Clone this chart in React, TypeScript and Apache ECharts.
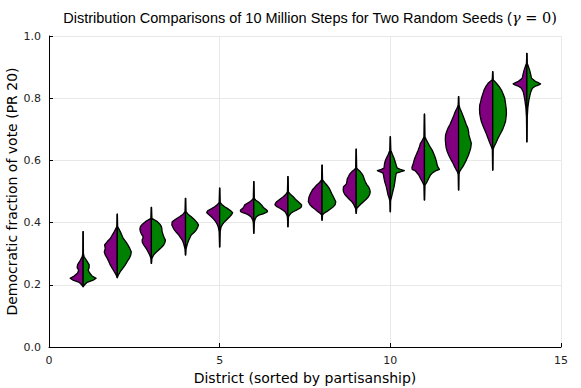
import React, { useEffect, useRef } from "react";
import * as echarts from "echarts";

// District index (sorted by partisanship)
const districts = [1, 2, 3, 4, 5, 6, 7, 8, 9, 10, 11, 12, 13, 14];

// Democratic vote fraction levels at which densities were read (bottom → top), per district
const voteLevels: number[][] = [
  [0.194, 0.2, 0.208, 0.215, 0.221, 0.228, 0.238, 0.247, 0.255, 0.265, 0.278, 0.29, 0.3, 0.371],
  [0.223, 0.231, 0.242, 0.253, 0.264, 0.275, 0.285, 0.296, 0.306, 0.317, 0.328, 0.339, 0.349, 0.36, 0.371, 0.387, 0.427],
  [0.269, 0.285, 0.296, 0.304, 0.312, 0.32, 0.328, 0.336, 0.344, 0.35, 0.355, 0.363, 0.371, 0.379, 0.387, 0.395, 0.403, 0.41, 0.414, 0.449],
  [0.296, 0.315, 0.328, 0.336, 0.344, 0.352, 0.36, 0.368, 0.376, 0.384, 0.392, 0.398, 0.403, 0.411, 0.419, 0.427, 0.435, 0.478],
  [0.322, 0.37, 0.38, 0.387, 0.395, 0.403, 0.411, 0.419, 0.426, 0.432, 0.438, 0.445, 0.451, 0.457, 0.465, 0.511],
  [0.366, 0.4, 0.408, 0.414, 0.419, 0.424, 0.428, 0.432, 0.435, 0.438, 0.441, 0.446, 0.451, 0.457, 0.462, 0.467, 0.472, 0.478, 0.532],
  [0.387, 0.418, 0.424, 0.43, 0.435, 0.441, 0.446, 0.451, 0.457, 0.462, 0.467, 0.475, 0.483, 0.491, 0.499, 0.548],
  [0.408, 0.425, 0.43, 0.436, 0.443, 0.45, 0.457, 0.467, 0.475, 0.483, 0.494, 0.505, 0.513, 0.521, 0.529, 0.537, 0.585],
  [0.43, 0.445, 0.451, 0.459, 0.467, 0.475, 0.483, 0.491, 0.499, 0.507, 0.515, 0.523, 0.532, 0.54, 0.548, 0.556, 0.564, 0.57, 0.575, 0.636],
  [0.435, 0.47, 0.48, 0.489, 0.5, 0.515, 0.53, 0.542, 0.552, 0.559, 0.563, 0.567, 0.571, 0.575, 0.583, 0.591, 0.599, 0.607, 0.62, 0.633, 0.676],
  [0.473, 0.52, 0.532, 0.542, 0.553, 0.56, 0.566, 0.571, 0.578, 0.585, 0.596, 0.607, 0.62, 0.633, 0.644, 0.655, 0.665, 0.676, 0.749],
  [0.505, 0.555, 0.564, 0.572, 0.58, 0.59, 0.601, 0.614, 0.628, 0.641, 0.655, 0.668, 0.682, 0.692, 0.703, 0.716, 0.73, 0.743, 0.757, 0.768, 0.778, 0.805],
  [0.569, 0.635, 0.644, 0.657, 0.671, 0.685, 0.698, 0.711, 0.724, 0.738, 0.751, 0.765, 0.778, 0.789, 0.8, 0.813, 0.826, 0.837, 0.848, 0.855, 0.859, 0.885],
  [0.66, 0.74, 0.77, 0.794, 0.808, 0.821, 0.832, 0.839, 0.843, 0.846, 0.849, 0.853, 0.864, 0.878, 0.891, 0.905, 0.912, 0.944],
];

// Relative density for seed A (purple, left half)
const seedADensity: number[][] = [
  [0.1, 1.5, 4, 10, 13, 9, 5.5, 4.5, 6, 5.5, 3, 1, 0.3, 0.1],
  [0.1, 1, 3, 5, 7, 8.5, 10, 12, 13, 12, 12.7, 10, 7, 5, 3, 0.4, 0.1],
  [0.1, 0.5, 1.7, 3, 4.3, 6, 7.7, 9, 9.3, 8.5, 8.3, 10, 11, 11.5, 11, 9, 6, 2.5, 0.5, 0.1],
  [0.1, 0.5, 1.5, 2.3, 3.3, 5, 6.7, 9, 11, 12.5, 13.7, 13.5, 13.3, 10, 6, 2.5, 0.5, 0.1],
  [0.1, 0.5, 1, 1.5, 2.5, 4, 6, 8.3, 11, 13, 12, 8, 5, 2.5, 0.5, 0.1],
  [0.1, 0.5, 1, 2, 3, 5, 7.3, 11, 13, 13.5, 13, 11, 10, 9, 6.5, 4, 2, 0.5, 0.1],
  [0.1, 0.5, 1, 2, 3, 5.5, 8, 11, 13, 12.5, 11.3, 8, 4.7, 2, 0.5, 0.1],
  [0.1, 0.5, 2, 4.5, 7, 10, 12, 13.7, 13.5, 13, 11.5, 9.7, 7.5, 5.3, 2.5, 0.5, 0.1],
  [0.1, 0.5, 1.5, 2.5, 4.3, 7, 9.3, 11.5, 12.7, 13, 12.7, 10, 9.3, 9, 7.7, 6.5, 4.3, 2, 0.5, 0.1],
  [0.1, 0.5, 1.3, 2.3, 3, 4, 5.5, 6.3, 6.8, 7.3, 10, 13, 9, 6.3, 6, 5.7, 5, 4, 2, 0.5, 0.1],
  [0.1, 0.5, 2.3, 4, 5.7, 7.5, 9, 12.3, 12.5, 11.7, 10.7, 9.7, 8, 6.3, 5, 4, 2, 0.5, 0.1],
  [0.1, 0.4, 1.3, 2.7, 4, 5.5, 7.3, 9.5, 11.3, 12.5, 13, 13.3, 13, 12, 10.7, 8.5, 6.7, 5, 3.3, 1.5, 0.4, 0.1],
  [0.1, 0.4, 1.3, 3, 4.7, 6.3, 8, 9.7, 11.3, 12.3, 13, 13.2, 13, 12, 11.3, 10, 8.7, 7, 4.7, 2, 0.5, 0.1],
  [0.1, 0.4, 1, 2, 2.8, 3.7, 5.5, 8.7, 12, 13.7, 12, 9, 4.7, 3.7, 2.7, 1.2, 0.4, 0.1],
];

// Relative density for seed B (green, right half)
const seedBDensity: number[][] = [
  [0.1, 1.5, 4, 10, 13, 9, 6.5, 5, 6, 6, 3.5, 1, 0.3, 0.1],
  [0.1, 1, 3, 5.5, 8, 10, 12, 13.5, 14, 12.5, 10.7, 8.5, 6, 4.5, 3, 0.4, 0.1],
  [0.1, 0.5, 2.3, 4.5, 7.3, 10, 12.3, 13.5, 14, 13, 12.3, 11.5, 10.7, 10.5, 10, 8.5, 6, 2.5, 0.5, 0.1],
  [0.1, 0.5, 1.5, 2.3, 3.3, 4.5, 5.7, 8.5, 10.7, 12, 13, 12, 10.7, 8.5, 5.7, 2.5, 0.5, 0.1],
  [0.1, 0.5, 1, 1.5, 3, 5, 7.5, 10, 12, 13, 11, 8, 5, 2.5, 0.5, 0.1],
  [0.1, 0.5, 1, 1.8, 2.7, 5, 9.3, 12, 13.7, 13.5, 12.7, 10.5, 9, 7.7, 6, 4.3, 2, 0.5, 0.1],
  [0.1, 0.5, 1.5, 3, 5.3, 9, 12, 13.5, 13.7, 12, 10.3, 7.5, 5.3, 2.5, 0.5, 0.1],
  [0.1, 0.5, 2, 5, 8, 11, 13, 13.7, 12.5, 11.3, 9.5, 8, 6.5, 4.7, 2.5, 0.5, 0.1],
  [0.1, 0.5, 2, 4.5, 7.3, 10, 12.3, 13.5, 14, 13.5, 12.3, 10.5, 9, 8, 7.3, 6, 4, 2, 0.5, 0.1],
  [0.1, 0.3, 1, 1.7, 2.5, 3.7, 4.5, 5, 5.5, 6, 10, 14, 10, 7, 6, 5.3, 4.5, 3.7, 2, 0.5, 0.1],
  [0.1, 0.5, 2.7, 4.2, 6, 8, 11, 15, 13.5, 12.7, 12, 11, 9.5, 7.7, 5.5, 3.7, 2, 0.5, 0.1],
  [0.1, 0.4, 1, 2.5, 4.3, 6, 7.7, 9.5, 11, 12.2, 12.7, 11.5, 10.3, 10, 9.3, 7.5, 6, 4.5, 2.7, 1.3, 0.4, 0.1],
  [0.1, 0.4, 1.3, 3.3, 5.3, 7.5, 9.7, 11.3, 12.7, 13.3, 13.7, 13.5, 13, 12.5, 12, 10.5, 8.7, 6.5, 3.7, 1.8, 0.5, 0.1],
  [0.1, 0.4, 1, 2, 3, 4, 5.5, 8.7, 12, 13.7, 12, 9, 4.7, 3.7, 2.7, 1.2, 0.4, 0.1],
];

const xTicks = [0, 5, 10, 15];
const yTicks = [0, 0.2, 0.4, 0.6, 0.8, 1.0];

const HALF_WIDTH = 0.4; // max half-width of a violin, in x units
const DENSITY_REF = 13.65;

function makeHalf(name: string, dens: number[][], sign: number, color: string) {
  return {
    name,
    type: "custom",
    coordinateSystem: "cartesian2d",
    encode: { x: 0, y: [1, 2] },
    data: districts.map((d, i) => [d, voteLevels[i][0], voteLevels[i][voteLevels[i].length - 1]]),
    renderItem: (params: any, api: any) => {
      const i = params.dataIndex;
      const x = api.value(0);
      const lv = voteLevels[i];
      const dv = dens[i];
      const pts: number[][] = [];
      for (let k = 0; k < lv.length; k++) {
        pts.push(api.coord([x + (sign * HALF_WIDTH * dv[k]) / DENSITY_REF, lv[k]]));
      }
      pts.push(api.coord([x, lv[lv.length - 1]]));
      pts.push(api.coord([x, lv[0]]));
      return {
        type: "polygon",
        shape: { points: pts },
        style: { fill: color, stroke: "#000", lineWidth: 1.3, lineJoin: "round" },
      };
    },
  };
}

export default function App() {
  const ref = useRef<HTMLDivElement>(null);
  useEffect(() => {
    if (!ref.current) return;
    const chart = echarts.init(ref.current, null, { renderer: "svg" });
    const tickFont = { fontFamily: "DejaVu Sans", fontSize: 11, color: "#222" };
    chart.setOption({
      animation: false,
      backgroundColor: "#fff",
      title: {
        text: "{n|Distribution Comparisons of 10 Million Steps for Two Random Seeds (}{g|γ}{m| = 0)}",
        left: 305,
        textAlign: "center",
        top: 5,
        textStyle: {
          fontWeight: "normal",
          rich: {
            n: { fontFamily: "Liberation Sans", fontWeight: "normal", fontSize: 14.5, color: "#000" },
            g: { fontFamily: "DejaVu Serif", fontStyle: "italic", fontWeight: "normal", fontSize: 14.5, color: "#000" },
            m: { fontFamily: "DejaVu Serif", fontWeight: "normal", fontSize: 14.5, color: "#000" },
          },
        },
      },
      grid: { left: 49, right: 20, top: 36, bottom: 41, containLabel: false, outerBoundsMode: "none" },
      xAxis: {
        type: "value",
        min: xTicks[0],
        max: xTicks[xTicks.length - 1],
        interval: xTicks[1] - xTicks[0],
        name: "District (sorted by partisanship)",
        nameLocation: "middle",
        nameGap: 22,
        nameTextStyle: { fontFamily: "DejaVu Sans", fontSize: 14, color: "#000" },
        axisLine: { show: true, lineStyle: { color: "#000", width: 1 } },
        axisTick: { show: true, inside: true, length: 4, lineStyle: { color: "#000" } },
        axisLabel: { ...tickFont, margin: 8 },
        splitLine: { show: true, lineStyle: { color: "#e8e8e8", width: 1 } },
      },
      yAxis: {
        type: "value",
        min: yTicks[0],
        max: yTicks[yTicks.length - 1],
        interval: 0.2,
        name: "Democratic fraction of vote (PR 20)",
        nameLocation: "middle",
        nameGap: 30,
        nameMoveOverlap: false,
        nameTextStyle: { fontFamily: "DejaVu Sans", fontSize: 14, color: "#000" },
        axisLine: { show: true, lineStyle: { color: "#000", width: 1 } },
        axisTick: { show: true, inside: true, length: 4, lineStyle: { color: "#000" } },
        axisLabel: { ...tickFont, margin: 8, formatter: (v: number) => v.toFixed(1) },
        splitLine: { show: true, lineStyle: { color: "#e8e8e8", width: 1 } },
      },
      series: [
        makeHalf("Seed A", seedADensity, -1, "#800080"),
        makeHalf("Seed B", seedBDensity, 1, "#008000"),
      ],
    });
    return () => chart.dispose();
  }, []);
  return <div ref={ref} style={{ position: "fixed", left: 0, top: 0, width: 581, height: 388 }} />;
}
